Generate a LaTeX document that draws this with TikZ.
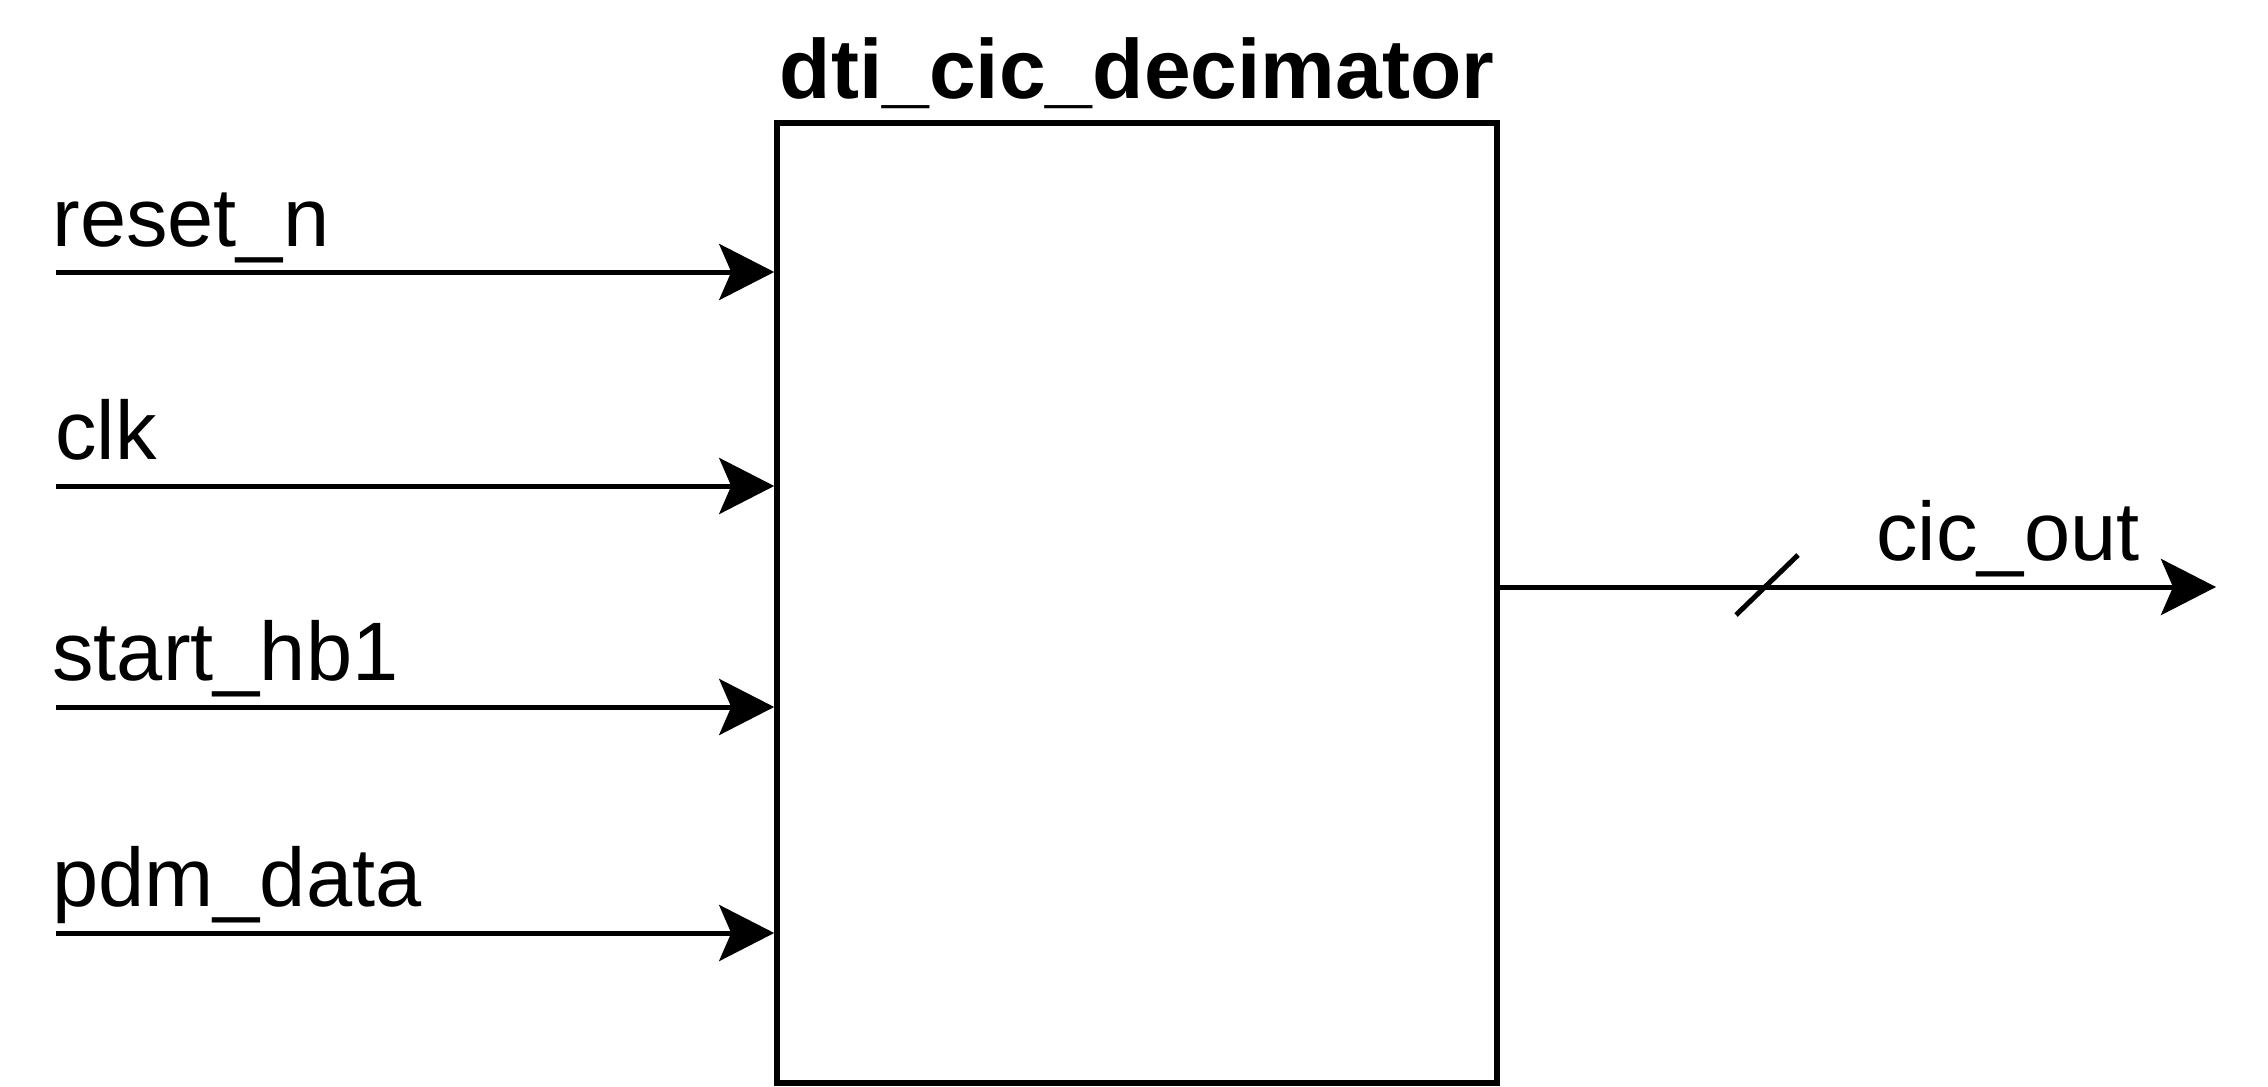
\documentclass[tikz,border=0pt]{standalone}
\usepackage{fontspec}
\setmainfont{Liberation Sans}
\usetikzlibrary{arrows.meta}
\begin{document}
\begin{tikzpicture}[x=0.5pt,y=-0.5pt,
  wire/.style={line width=2.5pt,-{Stealth[length=27.5pt,width=28pt,inset=6pt]}},
  lbl/.style={anchor=base west,inner sep=0pt,font=\fontsize{41.5pt}{45pt}\selectfont},
  blk/.style={draw,line width=2.8pt,minimum width=360pt,minimum height=480pt,inner sep=0pt}]
\useasboundingbox (0,0) rectangle (2268,1086);
\node[blk] (box) at (1137,603) {};
\node[anchor=base,inner sep=0pt,font=\fontsize{42pt}{46pt}\selectfont\bfseries] (title) at (1137,98) {dti\_cic\_decimator};
% inputs
\coordinate (i1) at (56,272);
\coordinate (i2) at (56,486);
\coordinate (i3) at (56,707);
\coordinate (i4) at (56,933);
\draw[wire] (i1) -- (i1 -| box.west);
\draw[wire] (i2) -- (i2 -| box.west);
\draw[wire] (i3) -- (i3 -| box.west);
\draw[wire] (i4) -- (i4 -| box.west);
\node[lbl] (l1) at (52,246) {reset\_n};
\node[lbl] (l2) at (55,459) {clk};
\node[lbl] (l3) at (52,680) {start\_hb1};
\node[lbl] (l4) at (52,906) {pdm\_data};
% output
\coordinate (o) at (2216,587);
\draw[wire] (box.east |- o) -- (o);
\coordinate (s1) at (1736,615);
\coordinate (s2) at (1798,555);
\draw[line width=2.5pt] (s1) -- (s2);
\node[lbl] (lo) at (1876,560) {cic\_out};
\end{tikzpicture}
\end{document}
